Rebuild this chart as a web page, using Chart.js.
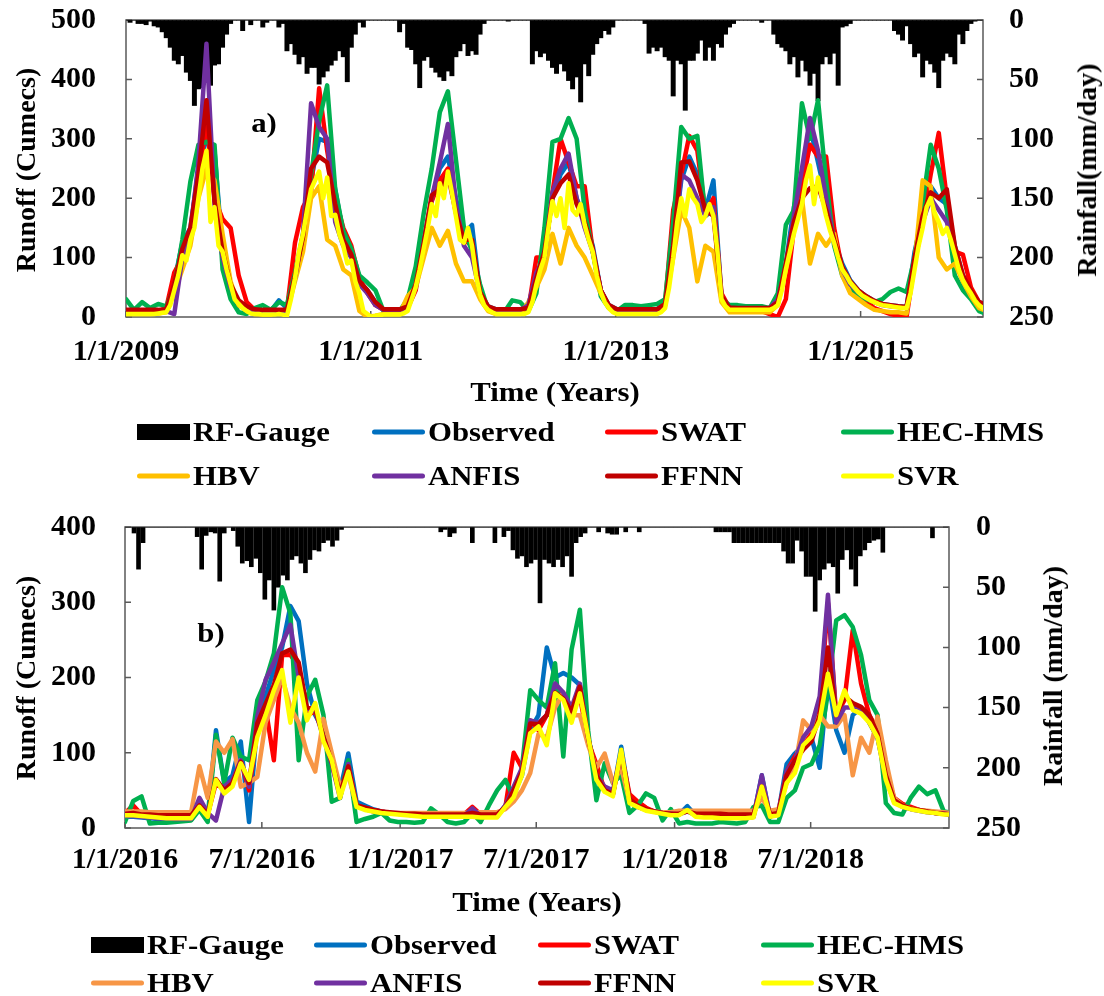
<!DOCTYPE html>
<html lang="en">
<head>
    <meta charset="UTF-8">
    <title>Runoff and Rainfall</title>
    <script src="https://cdn.jsdelivr.net/npm/chart.js"></script>
    <style>
        body {
            margin: 0;
            padding: 0;
            background: #fff;
            font-family: 'Liberation Serif', 'Times New Roman', serif;
        }
        #page {
            position: relative;
            width: 1104px;
            height: 996px;
            overflow: hidden;
        }
        canvas {
            position: absolute;
            left: 0;
        }
        .txt {
            position: absolute;
            font-weight: bold;
            font-size: 28px;
            line-height: 1;
            color: #000;
            white-space: nowrap;
        }
        .c { transform: translate(-50%, -50%) scaleX(1.1); }
        .v { transform: translate(-50%, -50%) rotate(-90deg); }
        .lt { transform-origin: 0 50%; transform: translateY(-50%) scaleX(1.1); }
        .sw {
            position: absolute;
            width: 53px;
            height: 5px;
            border-radius: 3px;
            transform: translateY(-50%);
        }
    </style>
</head>
<body>
<div id="page">
    <canvas id="chartA" width="1104" height="500" style="top:0"></canvas>
    <canvas id="chartB" width="1104" height="496" style="top:500px"></canvas>

    <div class="txt v" style="left:26px; top:170px">Runoff (Cumecs)</div>
    <div class="txt v" style="left:1087px; top:170px">Rainfall(mm/day)</div>
    <div class="txt c" style="left:555px; top:392px">Time (Years)</div>
    <div class="txt c" style="left:264px; top:123px">a)</div>

    <div class="txt v" style="left:26px; top:678px">Runoff (Cumecs)</div>
    <div class="txt v" style="left:1053px; top:676px">Rainfall (mm/day)</div>
    <div class="txt c" style="left:537px; top:902px">Time (Years)</div>
    <div class="txt c" style="left:211px; top:633px">b)</div>
</div>
<script>
    // ---- panel a: 2009-2015, runoff every 24 days (SVR and rain every 12) ----
    const stepA = 24;
    const fineStepA = 12;
    const aTickDays = [0, 730, 1461, 2191];
    const aTickLabels = ['1/1/2009', '1/1/2011', '1/1/2013', '1/1/2015'];

    const rainA = [
        0,2,0,3,3,4,1,5,6,10,15,23,34,37,30,44,
        51,72,58,57,48,55,38,37,23,12,3,0,0,9,0,4,
        0,0,6,2,0,0,6,3,26,20,29,37,31,45,40,40,
        54,48,43,38,34,26,31,52,23,12,2,6,0,0,0,0,
        0,0,0,0,10,3,23,25,37,57,34,31,40,44,48,51,
        43,47,31,26,20,30,26,29,12,3,0,0,0,0,0,1,
        0,0,0,0,0,37,26,31,28,34,40,45,37,43,51,58,
        48,69,37,47,29,20,15,9,12,6,0,0,0,0,0,0,
        0,3,28,23,26,23,31,34,64,34,37,76,34,34,28,17,
        34,23,34,20,23,12,6,3,0,0,0,0,0,0,2,0,
        0,12,20,23,26,37,31,48,34,43,55,45,68,37,31,37,
        28,55,6,5,3,0,0,0,0,0,0,0,0,0,0,9,
        12,17,5,20,31,28,48,34,37,44,57,34,28,31,37,12,
        20,9,3,1,0,0
    ];
    const obsA = [
        10,10,10,10,11,12,60,125,150,250,300,280,110,50,25,15,
        12,10,10,28,15,70,130,230,300,295,215,140,110,60,45,25,
        12,12,12,20,50,130,200,250,270,200,140,155,40,18,13,13,
        13,13,15,60,110,200,240,260,200,165,120,45,20,13,13,13,
        13,13,13,25,120,230,270,240,180,230,35,15,14,14,14,14,
        15,25,90,185,240,320,260,200,130,90,62,45,35,27,22,20,
        18,17,110,170,220,200,190,120,70,45,25,20
    ];
    const swatA = [
        8,8,8,8,10,15,75,100,140,230,330,200,165,150,70,25,
        12,10,10,10,12,125,185,210,385,280,200,150,120,65,40,20,
        12,12,12,15,45,120,195,230,250,180,130,120,40,15,12,12,
        12,12,12,100,100,210,300,260,220,220,110,45,18,12,12,12,
        12,12,12,22,180,240,305,280,175,200,40,15,13,13,12,10,
        5,0,30,150,220,290,270,270,150,80,55,40,25,15,10,5,
        2,0,90,160,240,310,200,110,105,50,25,20
    ];
    const hecA = [
        30,12,25,15,22,18,50,130,228,290,295,290,80,30,8,5,
        15,20,12,25,20,75,140,240,330,390,215,145,115,70,58,45,
        10,10,10,30,85,175,250,345,380,265,150,110,55,12,8,8,
        28,25,10,40,150,295,300,335,300,180,110,35,15,10,20,20,
        18,20,22,30,160,320,300,305,170,180,30,20,20,18,18,18,
        15,40,155,180,360,300,365,230,120,70,45,35,30,25,30,42,
        48,42,100,190,290,250,180,70,45,30,10,5
    ];
    const hbvA = [
        5,5,5,5,6,8,40,80,120,200,250,230,140,60,20,10,
        5,4,4,10,8,60,110,200,220,130,120,80,70,10,0,2,
        5,5,5,35,50,100,150,120,145,90,60,60,30,10,5,5,
        5,5,25,50,80,140,90,150,120,100,70,40,15,6,6,6,
        6,6,6,20,100,180,150,60,120,110,25,8,8,8,8,8,
        8,20,80,160,200,90,140,120,140,70,40,30,20,12,10,8,
        8,6,90,230,220,100,80,90,60,35,15,10
    ];
    const anfisA = [
        8,8,8,8,9,10,5,100,140,260,460,190,100,50,25,15,
        10,9,9,10,10,65,140,360,320,300,160,120,100,55,40,20,
        12,12,12,15,50,120,200,260,325,190,120,100,40,15,12,12,
        12,12,20,75,100,210,250,275,200,150,110,45,18,12,12,12,
        12,12,12,20,110,240,230,200,170,185,35,15,14,14,14,14,
        15,30,85,170,250,335,280,200,125,80,55,42,33,25,20,18,
        17,15,95,160,200,180,160,110,65,40,22,18
    ];
    const ffnnA = [
        12,12,12,12,12,13,55,115,150,240,365,195,110,55,28,18,
        13,12,12,12,12,70,135,250,270,260,190,130,105,60,45,25,
        13,13,13,18,55,125,205,215,240,175,130,130,42,18,13,13,
        13,13,15,65,110,200,225,240,190,160,115,45,20,13,13,13,
        13,13,13,22,120,260,262,230,180,170,35,16,15,15,15,15,
        15,25,90,160,200,217,220,180,130,85,60,45,35,27,22,20,
        18,17,100,170,210,200,215,120,70,45,25,20
    ];
    // SVR read at the finer 12-day spacing
    const svrA = [
        5,5,5,5,5,5,5,5,6,7,8,20,45,70,104,95,
        130,150,200,250,280,160,185,120,110,80,55,30,22,15,10,6,
        5,5,4,4,4,4,5,4,2,30,65,110,140,180,215,230,
        245,200,235,170,172,140,120,90,95,60,40,10,5,0,2,3,
        4,4,4,4,4,6,10,30,50,80,115,150,190,170,225,200,
        245,210,170,130,125,150,120,70,38,20,12,8,5,5,5,5,
        5,5,5,5,8,25,55,80,100,150,195,170,200,150,225,180,
        172,190,155,130,110,70,42,25,15,8,5,5,5,5,5,5,
        5,5,5,5,5,8,15,50,100,160,200,170,215,200,190,160,
        170,190,170,110,30,18,12,12,12,12,12,12,12,12,12,12,
        12,15,20,45,80,110,140,165,190,230,255,190,235,200,170,145,
        125,100,80,70,58,50,42,36,32,28,25,22,20,19,18,17,
        16,15,15,40,80,120,150,185,200,175,160,140,150,130,105,80,
        62,50,40,28,20,15
    ];

    // ---- panel b: 2016-2018, runoff every 11 days, rain every 6 days ----
    const stepB = 11;
    const rainStepB = 6;
    const bTickDays = [0, 182, 366, 547, 731, 912];
    const bTickLabels = ['1/1/2016', '7/1/2016', '1/1/2017', '7/1/2017', '1/1/2018', '7/1/2018'];

    const rainB = [
        0,0,5,35,13,0,0,0,0,0,0,0,0,0,0,0,
        8,35,7,4,5,45,5,0,3,16,30,28,33,26,38,60,
        44,69,50,40,44,27,24,30,38,27,19,20,13,11,16,11,
        2,0,0,0,0,0,0,0,0,0,0,0,0,0,0,0,
        0,0,0,0,0,0,4,2,8,5,0,0,0,13,0,0,
        0,0,13,0,8,3,19,26,24,33,30,27,63,27,30,33,
        27,33,24,41,13,8,5,0,0,4,0,5,6,6,0,4,
        0,0,4,0,0,0,0,0,0,0,0,0,0,0,0,0,
        0,0,0,4,4,4,4,13,13,13,13,13,13,13,13,13,
        13,13,20,30,30,11,20,41,41,70,44,35,30,33,55,27,
        19,35,49,24,19,13,11,10,21,0,0,0,0,0,0,0,
        0,0,0,9,0,0,0
    ];
    const obsB = [
        15,15,14,13,12,12,11,11,11,30,15,130,60,70,115,8,
        140,175,210,240,295,275,192,150,130,90,50,99,35,30,25,22,
        20,19,18,17,16,16,16,16,16,16,16,15,15,15,30,45,
        70,130,150,240,200,206,200,190,120,75,50,45,108,40,30,25,
        22,20,19,18,29,17,16,15,14,14,14,13,15,70,15,20,
        85,99,110,120,80,200,130,100,150,160,140,120,70,38,30,26,
        24,22,20,19,18
    ];
    const swatB = [
        20,30,18,17,16,16,16,16,16,28,18,60,50,60,90,50,
        130,160,90,230,230,215,150,155,125,85,45,85,30,27,24,22,
        20,19,19,18,18,18,18,18,18,18,28,18,18,18,28,100,
        80,143,130,150,185,175,160,175,115,85,50,45,100,45,35,27,
        22,20,19,19,22,19,19,19,19,18,18,18,18,50,18,20,
        75,95,110,125,160,299,150,170,263,192,150,130,75,40,32,28,
        24,22,20,19,18
    ];
    const hecB = [
        8,36,42,6,7,7,8,9,10,24,8,124,60,120,95,90,
        170,195,232,320,285,90,175,197,150,35,40,90,8,12,15,20,
        10,8,8,7,8,26,18,8,6,8,20,8,30,50,64,40,
        80,183,170,160,219,95,237,290,130,37,86,60,70,20,30,46,
        40,10,25,6,8,6,6,6,8,7,6,8,28,30,8,8,
        40,50,80,85,110,180,276,283,267,230,170,150,33,20,18,40,
        55,45,50,22,20
    ];
    const hbvB = [
        22,22,22,21,21,21,21,21,21,82,40,115,100,118,55,60,
        68,140,170,200,160,140,100,75,145,100,55,70,30,25,22,21,
        20,20,20,20,20,20,20,20,20,20,21,21,21,21,25,35,
        50,73,125,120,160,180,150,150,110,80,99,60,80,35,28,24,
        22,21,21,23,23,23,23,23,23,23,23,23,23,40,23,25,
        60,80,143,130,150,135,135,150,70,120,100,148,90,40,30,26,
        24,23,22,21,20
    ];
    const anfisB = [
        16,16,15,14,13,13,12,12,12,40,20,10,55,64,90,55,
        148,197,220,245,270,200,160,155,120,85,40,85,30,25,22,21,
        20,19,18,17,16,16,16,16,16,16,26,16,16,16,30,55,
        80,143,140,150,192,180,160,192,120,70,55,50,100,38,28,24,
        22,20,19,18,22,17,16,15,14,14,14,13,15,70,15,20,
        75,90,120,135,175,310,140,160,160,158,140,120,65,35,28,25,
        23,21,20,19,18
    ];
    const ffnnB = [
        19,20,18,18,17,17,17,17,17,30,18,65,50,60,88,60,
        139,165,190,232,237,220,160,158,121,88,45,82,30,27,24,22,
        21,20,19,19,18,18,18,18,18,18,20,18,18,18,28,50,
        75,139,138,150,180,172,155,188,120,70,50,45,100,38,30,25,
        22,20,19,19,22,19,19,19,19,18,18,18,18,55,18,20,
        70,90,104,115,150,240,150,175,166,161,150,125,70,37,30,26,
        24,22,20,19,18
    ];
    const svrB = [
        17,17,16,15,14,13,13,13,13,28,15,64,46,55,86,64,
        121,150,183,210,140,200,143,166,115,90,40,75,28,24,22,20,
        19,18,17,16,15,15,15,15,15,15,15,14,14,14,28,41,
        70,126,135,110,179,170,140,179,121,64,48,42,104,33,28,23,
        21,19,17,17,24,15,14,14,13,13,13,13,14,55,15,17,
        60,73,110,121,143,205,150,183,157,152,140,120,64,33,28,25,
        23,21,20,18,18
    ];

    const legendNames = ['RF-Gauge', 'Observed', 'SWAT', 'HEC-HMS', 'HBV', 'ANFIS', 'FFNN', 'SVR'];
    const colorsA = ['#000000', '#0070C0', '#FF0000', '#00B050', '#FFC000', '#7030A0', '#C00000', '#FFFF00'];
    const colorsB = ['#000000', '#0070C0', '#FF0000', '#00B050', '#F79646', '#7030A0', '#C00000', '#FFFF00'];

    const tickFont = { family: "'Liberation Serif', 'Times New Roman', serif", size: 30, weight: 'bold' };

    function toPoints(vals, step) {
        return vals.map((v, i) => ({ x: i * step, y: v }));
    }

    // invisible tick marks push the labels away from the box without
    // growing the label padding (which would shift the plot area down)
    function spacer(len) {
        return { display: true, drawOnChartArea: false, drawTicks: true, tickLength: len, tickColor: 'rgba(0,0,0,0)' };
    }

    // plot box with small inward tick marks
    const framePlugin = {
        id: 'frame',
        beforeDatasetsDraw(chart) {
            const { ctx, chartArea, scales } = chart;
            const { left, top, right, bottom } = chartArea;
            ctx.save();
            ctx.strokeStyle = '#595959';
            ctx.lineWidth = 1.5;
            ctx.strokeRect(left, top, right - left, bottom - top);
            ctx.beginPath();
            scales.y.ticks.forEach(t => {
                const p = scales.y.getPixelForValue(t.value);
                ctx.moveTo(left, p); ctx.lineTo(left + 6, p);
            });
            scales.rain.ticks.forEach(t => {
                const p = scales.rain.getPixelForValue(t.value);
                ctx.moveTo(right, p); ctx.lineTo(right - 6, p);
            });
            scales.x.ticks.forEach(t => {
                const p = scales.x.getPixelForValue(t.value);
                ctx.moveTo(p, bottom); ctx.lineTo(p, bottom - 6);
            });
            ctx.stroke();
            ctx.restore();
        }
    };

    function makeChart(id, p) {
        const line = (label, vals, step, color, order) => ({
            type: 'line',
            label: label,
            data: toPoints(vals, step),
            borderColor: color,
            backgroundColor: color,
            borderWidth: 4.5,
            pointRadius: 0,
            tension: 0,
            borderJoinStyle: 'round',
            borderCapStyle: 'round',
            fill: false,
            yAxisID: 'y',
            order: order
        });
        return new Chart(document.getElementById(id), {
            type: 'line',
            data: {
                datasets: [
                    {
                        type: 'bar',
                        label: 'RF-Gauge',
                        data: toPoints(p.rain, p.rainStep),
                        backgroundColor: '#000',
                        borderWidth: 0,
                        barThickness: p.barPx,
                        yAxisID: 'rain',
                        clip: 0,
                        order: 10
                    },
                    line('Observed', p.series[0], p.step, p.colors[1], 7),
                    line('SWAT', p.series[1], p.step, p.colors[2], 6),
                    line('HEC-HMS', p.series[2], p.step, p.colors[3], 5),
                    line('HBV', p.series[3], p.step, p.colors[4], 4),
                    line('ANFIS', p.series[4], p.step, p.colors[5], 3),
                    line('FFNN', p.series[5], p.step, p.colors[6], 2),
                    line('SVR', p.series[6], p.svrStep, p.colors[7], 1)
                ]
            },
            options: {
                responsive: false,
                animation: false,
                devicePixelRatio: 1,
                layout: { padding: { top: p.top, left: 0, right: 0, bottom: 0 } },
                plugins: { legend: { display: false }, tooltip: { enabled: false } },
                scales: {
                    x: {
                        type: 'linear',
                        min: 0,
                        max: p.maxDay,
                        offset: false,
                        grid: spacer(p.xPad),
                        border: { display: false },
                        afterBuildTicks: s => { s.ticks = p.tickDays.map(v => ({ value: v })); },
                        afterFit: s => { s.height = p.xHeight; },
                        ticks: {
                            autoSkip: false,
                            maxRotation: 0,
                            padding: 0,
                            color: '#000',
                            font: tickFont,
                            callback: (v, i) => p.tickLabels[i]
                        }
                    },
                    y: {
                        position: 'left',
                        min: 0,
                        max: p.maxQ,
                        grid: spacer(p.yPad),
                        border: { display: false },
                        afterFit: s => { s.width = p.left; },
                        ticks: { stepSize: 100, padding: 0, color: '#000', font: tickFont }
                    },
                    rain: {
                        position: 'right',
                        reverse: true,
                        min: 0,
                        max: 250,
                        grid: spacer(p.rPad),
                        border: { display: false },
                        afterFit: s => { s.width = p.right; },
                        ticks: { stepSize: 50, padding: 0, color: '#000', font: tickFont }
                    }
                }
            },
            plugins: [framePlugin]
        });
    }

    makeChart('chartA', {
        step: stepA, svrStep: fineStepA, rainStep: fineStepA, rain: rainA, barPx: 4.3,
        series: [obsA, swatA, hecA, hbvA, anfisA, ffnnA, svrA],
        colors: colorsA, maxDay: 2556, maxQ: 500,
        tickDays: aTickDays, tickLabels: aTickLabels,
        top: 20, xHeight: 183, left: 126, right: 121,
        xPad: 17, yPad: 30, rPad: 26
    });

    makeChart('chartB', {
        step: stepB, svrStep: stepB, rainStep: rainStepB, rain: rainB, barPx: 4,
        series: [obsB, swatB, hecB, hbvB, anfisB, ffnnB, svrB],
        colors: colorsB, maxDay: 1096, maxQ: 400,
        tickDays: bTickDays, tickLabels: bTickLabels,
        top: 27, xHeight: 168, left: 125, right: 155,
        xPad: 14, yPad: 29, rPad: 27
    });

    // legends under each panel, 4 columns x 2 rows
    function addLegend(colors, rows, cols) {
        const page = document.getElementById('page');
        legendNames.forEach((name, i) => {
            const x = cols[i % 4];
            const y = rows[Math.floor(i / 4)];
            const sw = document.createElement('div');
            sw.className = 'sw';
            sw.style.left = x + 'px';
            sw.style.top = y + 'px';
            sw.style.background = colors[i];
            if (i === 0) {
                sw.style.height = '16px';
                sw.style.borderRadius = '0';
            }
            page.appendChild(sw);
            const t = document.createElement('div');
            t.className = 'txt lt';
            t.style.left = (x + 56) + 'px';
            t.style.top = y + 'px';
            t.textContent = name;
            page.appendChild(t);
        });
    }
    addLegend(colorsA, [432, 476], [137, 372, 605, 841]);
    addLegend(colorsB, [945, 983], [91, 314, 538, 761]);
</script>
</body>
</html>
